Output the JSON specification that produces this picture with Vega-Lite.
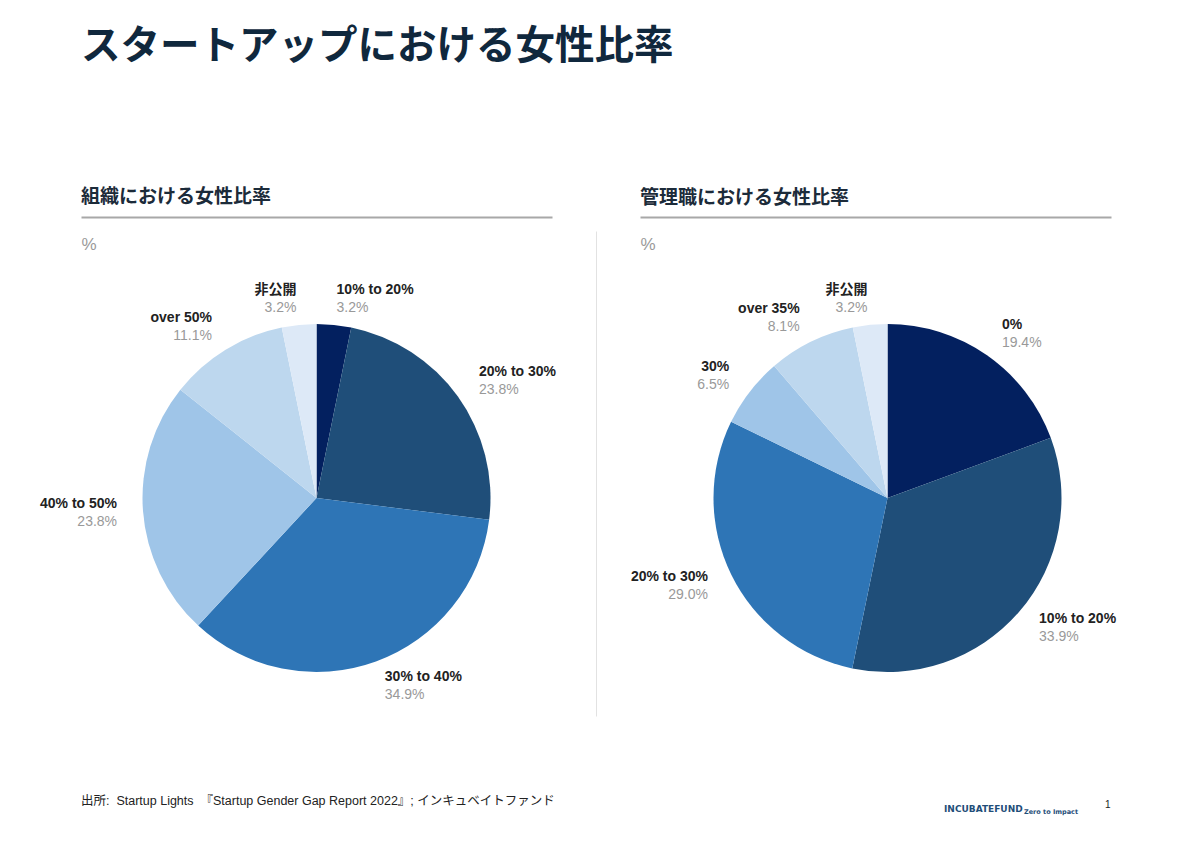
{
  "$schema": "https://vega.github.io/schema/vega-lite/v6.json",
  "background": "white",
  "padding": {"left": 40, "top": 27, "right": 0, "bottom": 0},
  "title": {
    "text": "スタートアップにおける女性比率",
    "anchor": "start",
    "frame": "group",
    "font": "Noto Sans CJK JP",
    "fontSize": 39.5,
    "fontWeight": "bold",
    "color": "#10283d",
    "offset": 120
  },
  "config": {
    "view": {"stroke": null},
    "font": "Liberation Sans, Noto Sans CJK JP",
    "text": {"font": "Liberation Sans, Noto Sans CJK JP"}
  },
  "datasets": {
    "org": [
      {"category": "10% to 20%", "pct": 3.2, "label": "3.2%"},
      {"category": "20% to 30%", "pct": 23.8, "label": "23.8%"},
      {"category": "30% to 40%", "pct": 34.9, "label": "34.9%"},
      {"category": "40% to 50%", "pct": 23.8, "label": "23.8%"},
      {"category": "over 50%", "pct": 11.1, "label": "11.1%"},
      {"category": "非公開", "pct": 3.2, "label": "3.2%"}
    ],
    "mgr": [
      {"category": "0%", "pct": 19.4, "label": "19.4%"},
      {"category": "10% to 20%", "pct": 33.9, "label": "33.9%"},
      {"category": "20% to 30%", "pct": 29.0, "label": "29.0%"},
      {"category": "30%", "pct": 6.5, "label": "6.5%"},
      {"category": "over 35%", "pct": 8.1, "label": "8.1%"},
      {"category": "非公開", "pct": 3.2, "label": "3.2%"}
    ],
    "one": [{"k": 1}]
  },
  "spacing": 16,
  "vconcat": [
    {
      "bounds": "flush",
      "spacing": 100,
      "resolve": {"scale": {"color": "independent", "theta": "independent", "x": "independent", "y": "independent"}},
      "hconcat": [
        {
          "width": 471,
          "height": 562,
          "data": {"name": "org"},
          "title": {
            "text": "組織における女性比率",
            "anchor": "start",
            "frame": "group",
            "font": "Noto Sans CJK JP",
            "fontSize": 19,
            "fontWeight": "bold",
            "color": "#1c2b3a",
            "offset": 9
          },
          "layer": [
            {
              "mark": {"type": "point", "opacity": 0},
              "encoding": {
                "x": {
                  "field": "pct",
                  "type": "quantitative",
                  "axis": {"orient": "top", "title": null, "labels": false, "ticks": false, "grid": false, "domain": true, "domainColor": "#a8a8a8", "domainWidth": 2}
                },
                "y": {
                  "field": "pct",
                  "type": "quantitative",
                  "axis": {"orient": "left", "title": "%", "labels": false, "ticks": false, "grid": false, "domain": false, "titleAngle": 0, "titleAlign": "left", "titleBaseline": "top", "titleX": 0, "titleY": 19, "titleFontSize": 17, "titleFontWeight": "normal", "titleColor": "#9a9a9a", "titleFont": "Liberation Sans"}
                }
              }
            },
            {
              "mark": {"type": "arc", "outerRadius": 174},
              "encoding": {
                "theta": {"field": "pct", "type": "quantitative", "stack": true},
                "order": {"field": "category", "type": "nominal"},
                "color": {
                  "field": "category",
                  "type": "nominal",
                  "legend": null,
                  "scale": {
                    "domain": ["10% to 20%", "20% to 30%", "30% to 40%", "40% to 50%", "over 50%", "非公開"],
                    "range": ["#03205f", "#1f4e79", "#2e75b6", "#9fc5e8", "#bdd7ee", "#dde9f7"]
                  }
                }
              }
            },
            {
              "mark": {"type": "text", "radius": 200, "dy": -9, "fontSize": 14, "fontWeight": "bold", "color": "#222222", "baseline": "middle",
                "align": {"expr": "datum.pct_start + datum.pct_end > 100 ? 'right' : 'left'"}},
              "encoding": {
                "theta": {"field": "pct", "type": "quantitative", "stack": true},
                "order": {"field": "category", "type": "nominal"},
                "detail": {"field": "category"},
                "text": {"field": "category"}
              }
            },
            {
              "mark": {"type": "text", "radius": 200, "dy": 9, "fontSize": 14, "color": "#999999", "baseline": "middle",
                "align": {"expr": "datum.pct_start + datum.pct_end > 100 ? 'right' : 'left'"}},
              "encoding": {
                "theta": {"field": "pct", "type": "quantitative", "stack": true},
                "order": {"field": "category", "type": "nominal"},
                "detail": {"field": "category"},
                "text": {"field": "label"}
              }
            }
          ]
        },
        {
          "width": 471,
          "height": 562,
          "data": {"name": "mgr"},
          "title": {
            "text": "管理職における女性比率",
            "anchor": "start",
            "frame": "group",
            "dx": -12,
            "font": "Noto Sans CJK JP",
            "fontSize": 19,
            "fontWeight": "bold",
            "color": "#1c2b3a",
            "offset": 9
          },
          "layer": [
            {
              "mark": {"type": "point", "opacity": 0},
              "encoding": {
                "x": {
                  "field": "pct",
                  "type": "quantitative",
                  "scale": {"range": [-12, 459]},
                  "axis": {"orient": "top", "title": null, "labels": false, "ticks": false, "grid": false, "domain": true, "domainColor": "#a8a8a8", "domainWidth": 2}
                },
                "y": {
                  "field": "pct",
                  "type": "quantitative",
                  "scale": {"range": [499, 14]},
                  "axis": {"orient": "left", "offset": 56, "title": "%", "labels": false, "ticks": false, "grid": false, "domain": true, "domainColor": "#e2e2e2", "domainWidth": 1, "titleAngle": 0, "titleAlign": "left", "titleBaseline": "top", "titleX": 44, "titleY": 19, "titleFontSize": 17, "titleFontWeight": "normal", "titleColor": "#9a9a9a", "titleFont": "Liberation Sans"}
                }
              }
            },
            {
              "mark": {"type": "arc", "outerRadius": 174},
              "encoding": {
                "theta": {"field": "pct", "type": "quantitative", "stack": true},
                "order": {"field": "category", "type": "nominal"},
                "color": {
                  "field": "category",
                  "type": "nominal",
                  "legend": null,
                  "scale": {
                    "domain": ["0%", "10% to 20%", "20% to 30%", "30%", "over 35%", "非公開"],
                    "range": ["#03205f", "#1f4e79", "#2e75b6", "#9fc5e8", "#bdd7ee", "#dde9f7"]
                  }
                }
              }
            },
            {
              "mark": {"type": "text", "radius": 200, "dy": -9, "fontSize": 14, "fontWeight": "bold", "color": "#222222", "baseline": "middle",
                "align": {"expr": "datum.pct_start + datum.pct_end > 100 ? 'right' : 'left'"}},
              "encoding": {
                "theta": {"field": "pct", "type": "quantitative", "stack": true},
                "order": {"field": "category", "type": "nominal"},
                "detail": {"field": "category"},
                "text": {"field": "category"}
              }
            },
            {
              "mark": {"type": "text", "radius": 200, "dy": 9, "fontSize": 14, "color": "#999999", "baseline": "middle",
                "align": {"expr": "datum.pct_start + datum.pct_end > 100 ? 'right' : 'left'"}},
              "encoding": {
                "theta": {"field": "pct", "type": "quantitative", "stack": true},
                "order": {"field": "category", "type": "nominal"},
                "detail": {"field": "category"},
                "text": {"field": "label"}
              }
            }
          ]
        }
      ]
    },
    {
      "bounds": "flush",
      "spacing": 0,
      "hconcat": [
        {
          "width": 863,
          "height": 1,
          "data": {"name": "one"},
          "title": {"text": "出所:\u00a0\u00a0Startup Lights\u00a0\u00a0『Startup Gender Gap Report 2022』; インキュベイトファンド", "anchor": "start", "frame": "group", "baseline": "alphabetic", "offset": 0, "fontSize": 12.5, "fontWeight": "normal", "color": "#222222", "font": "Liberation Sans, Noto Sans CJK JP"},
          "mark": {"type": "rule", "opacity": 0},
          "encoding": {}
        },
        {
          "width": 80,
          "height": 1,
          "data": {"name": "one"},
          "title": {"text": "INCUBATEFUND", "anchor": "start", "frame": "group", "baseline": "alphabetic", "offset": -3, "fontSize": 9, "fontWeight": "bold", "color": "#1f4e79", "font": "DejaVu Sans"},
          "mark": {"type": "rule", "opacity": 0},
          "encoding": {}
        },
        {
          "width": 81,
          "height": 1,
          "data": {"name": "one"},
          "title": {"text": "Zero to Impact", "anchor": "start", "frame": "group", "baseline": "alphabetic", "offset": -3, "fontSize": 6.5, "fontWeight": "bold", "color": "#1f4e79", "font": "DejaVu Sans"},
          "mark": {"type": "rule", "opacity": 0},
          "encoding": {}
        },
        {
          "width": 10,
          "height": 1,
          "data": {"name": "one"},
          "title": {"text": "1", "anchor": "start", "frame": "group", "baseline": "alphabetic", "offset": 0, "fontSize": 10, "fontWeight": "normal", "color": "#222222", "font": "Liberation Sans"},
          "mark": {"type": "rule", "opacity": 0},
          "encoding": {}
        }
      ]
    }
  ]
}
